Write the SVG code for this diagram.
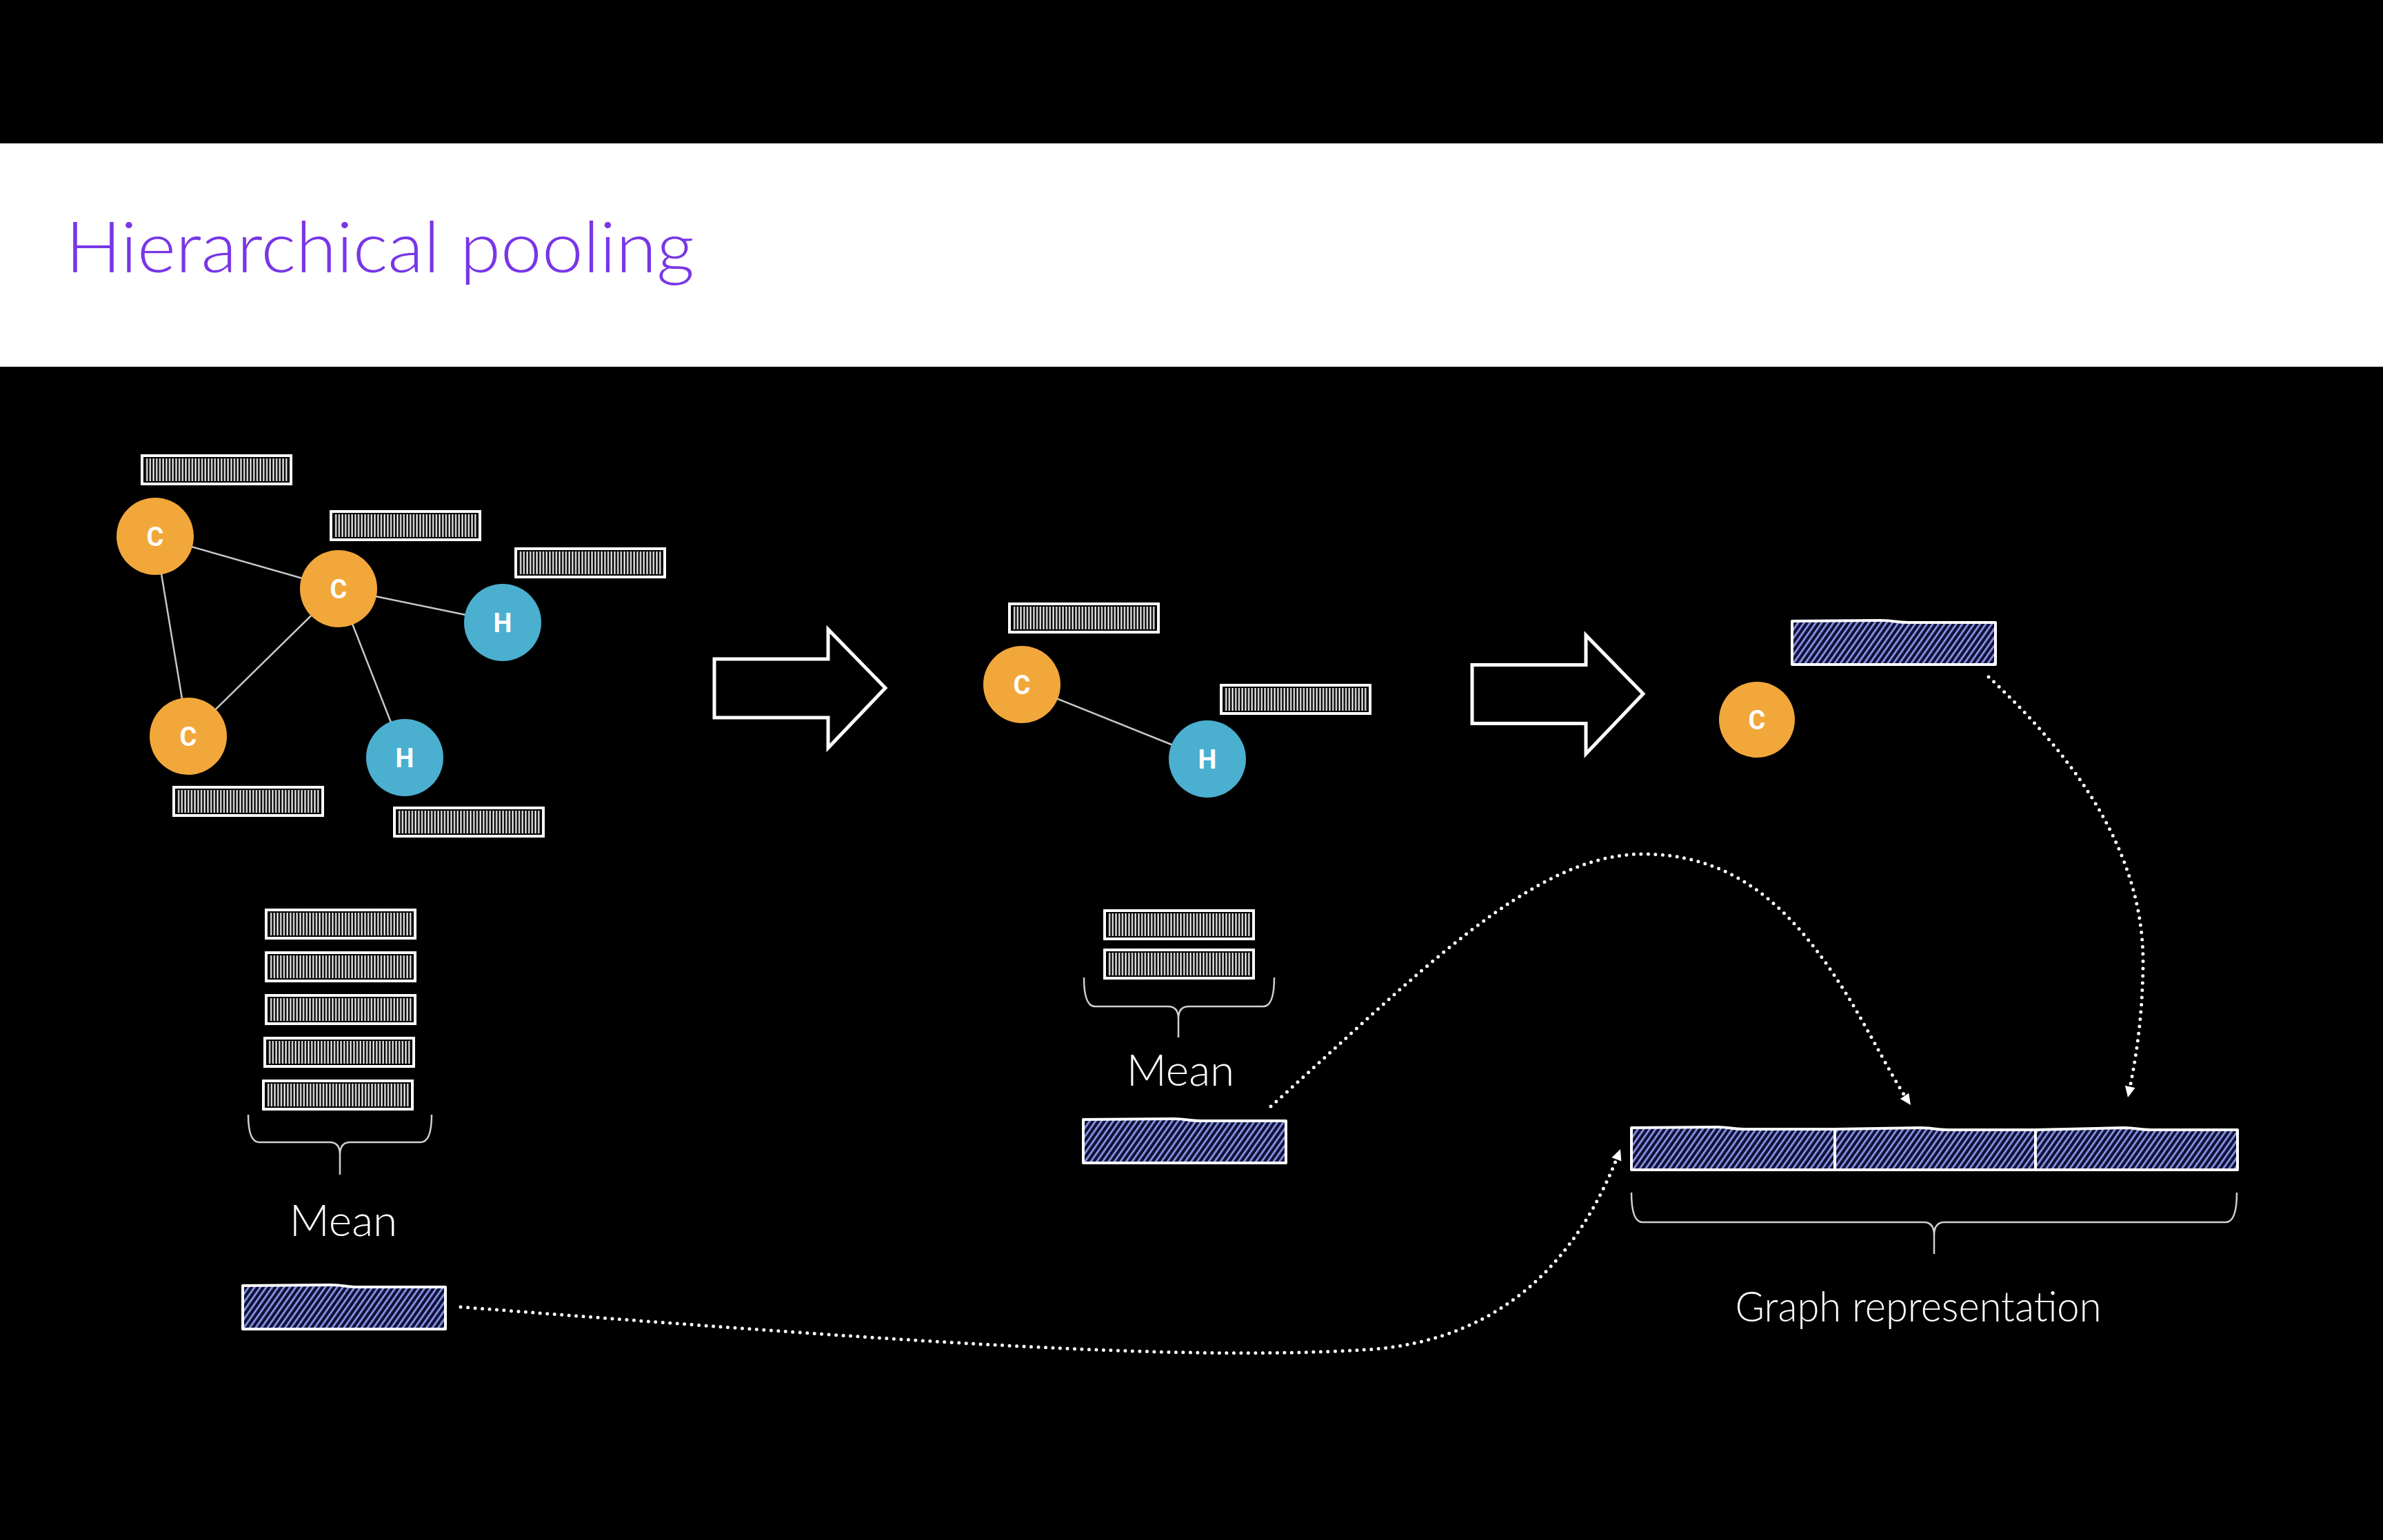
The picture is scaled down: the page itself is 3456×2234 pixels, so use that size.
<svg xmlns="http://www.w3.org/2000/svg" xmlns:xlink="http://www.w3.org/1999/xlink" width="3456" height="2234" viewBox="0 0 3456 2234">
<style>
.edge{stroke:#c8c8c8;stroke-width:2.5;fill:none}
.c{fill:#F2A73B}
.h{fill:#4BAFD0}
.lbl{font-family:Roboto,"Liberation Sans",sans-serif;font-weight:700;font-size:38px;fill:#fff;text-anchor:middle}
.blk{fill:none;stroke:#fff;stroke-width:5;stroke-linejoin:miter}
.hb{fill:url(#hatch);stroke:#fff;stroke-width:4;stroke-linejoin:round}
.brace{fill:none;stroke:#d0d0d0;stroke-width:2.5}
.txt{font-family:Lato,"Open Sans",sans-serif;font-weight:300;fill:#fff;text-anchor:middle}
.dot{fill:none;stroke:#fff;stroke-width:5;stroke-linecap:round;stroke-dasharray:0 10.5}
</style>
<defs>
<pattern id="vs" width="4.7" height="8" patternUnits="userSpaceOnUse"><rect x="1.4" width="2.1" height="8" fill="#fff"/></pattern>
<pattern id="hatch" width="7" height="20" patternUnits="userSpaceOnUse" patternTransform="rotate(35)"><rect width="7" height="20" fill="#0e1036"/><rect width="2.8" height="20" fill="#8a94e6"/></pattern>
<g id="bar"><rect x="0" y="0" width="216" height="41" fill="#000" stroke="#fff" stroke-width="4"/><rect x="4.5" y="4" width="207" height="33" fill="url(#vs)"/></g>
<marker id="ah" markerWidth="18" markerHeight="16" refX="16" refY="7.5" orient="auto" markerUnits="userSpaceOnUse"><path d="M0,0 L16,7.5 L0,15 Z" fill="#fff"/></marker>
</defs>
<rect x="0" y="0" width="3456" height="2234" fill="#000"/>
<rect x="0" y="208" width="3456" height="324" fill="#fff"/>
<text x="95" y="395" font-family="Lato,'Open Sans',sans-serif" font-weight="300" font-size="102" fill="#7936E6" textLength="912" lengthAdjust="spacingAndGlyphs">Hierarchical pooling</text>

<g id="connectors">
<line class="edge" x1="225" y1="778" x2="491" y2="854"/>
<line class="edge" x1="225" y1="778" x2="273" y2="1068"/>
<line class="edge" x1="491" y1="854" x2="273" y2="1068"/>
<line class="edge" x1="491" y1="854" x2="729" y2="903"/>
<line class="edge" x1="491" y1="854" x2="587" y2="1099"/>
<line class="edge" x1="1482" y1="993" x2="1751" y2="1101"/>
<polygon class="blk" points="1036,956 1201,956 1201,913 1284,998 1201,1085 1201,1041 1036,1041"/>
<polygon class="blk" points="2135,964.5 2300,964.5 2300,921.5 2383,1006.5 2300,1093.5 2300,1049.5 2135,1049.5"/>
<path class="dot" marker-end="url(#ah)" d="M668,1896 C1300,1945 1700,1975 1980,1958 C2200,1945 2300,1800 2350,1667"/>
<path class="dot" marker-end="url(#ah)" d="M1843,1605 C2050,1420 2220,1240 2380,1239 C2500,1238 2580,1300 2650,1400 C2700,1470 2735,1550 2771,1603"/>
<path class="dot" marker-end="url(#ah)" d="M2884,982 C3000,1090 3110,1230 3108,1400 C3107,1480 3097,1540 3086,1592"/>
</g>

<g id="graph1">
<g id="n-c1"><circle class="c" cx="225" cy="778" r="56"/><text class="lbl" x="225" y="792">C</text></g>
<g id="n-c2"><circle class="c" cx="491" cy="854" r="56"/><text class="lbl" x="491" y="868">C</text></g>
<g id="n-h1"><circle class="h" cx="729" cy="903" r="56"/><text class="lbl" x="729" y="917">H</text></g>
<g id="n-c3"><circle class="c" cx="273" cy="1068" r="56"/><text class="lbl" x="273" y="1082">C</text></g>
<g id="n-h2"><circle class="h" cx="587" cy="1099" r="56"/><text class="lbl" x="587" y="1113">H</text></g>
<use id="v-c1" xlink:href="#bar" x="206" y="661"/>
<use id="v-c2" xlink:href="#bar" x="480" y="742"/>
<use id="v-h1" xlink:href="#bar" x="748" y="796"/>
<use id="v-c3" xlink:href="#bar" x="252" y="1142"/>
<use id="v-h2" xlink:href="#bar" x="572" y="1172"/>
</g>

<g id="stack1">
<use xlink:href="#bar" x="386" y="1320"/>
<use xlink:href="#bar" x="386" y="1382"/>
<use xlink:href="#bar" x="386" y="1444"/>
<use xlink:href="#bar" x="384" y="1506"/>
<use xlink:href="#bar" x="382" y="1568"/>
<path class="brace" d="M360,1617 Q360,1657 376,1657 L478,1657 Q493,1657 493,1675 L493,1704 M493,1675 Q493,1657 508,1657 L610,1657 Q626,1657 626,1617"/>
<text class="txt" x="498" y="1793" font-size="64">Mean</text>
<path id="pool1" class="hb" d="M352,1928 V1865 L480,1864 C500,1864 500,1867 520,1867 H646 V1928 Z"/>
</g>

<g id="graph2">
<g id="n2-c"><circle class="c" cx="1482" cy="993" r="56"/><text class="lbl" x="1482" y="1007">C</text></g>
<g id="n2-h"><circle class="h" cx="1751" cy="1101" r="56"/><text class="lbl" x="1751" y="1115">H</text></g>
<use id="v2-c" xlink:href="#bar" x="1464" y="876"/>
<use id="v2-h" xlink:href="#bar" x="1771" y="994"/>
</g>

<g id="stack2">
<use xlink:href="#bar" x="1602" y="1321"/>
<use xlink:href="#bar" x="1602" y="1378"/>
<path class="brace" d="M1572,1418 Q1572,1460 1588,1460 L1694,1460 Q1709,1460 1709,1478 L1709,1505 M1709,1478 Q1709,1460 1724,1460 L1832,1460 Q1848,1460 1848,1418"/>
<text class="txt" x="1712" y="1575" font-size="64">Mean</text>
<path id="pool2" class="hb" d="M1571,1687 V1624 L1702,1623 C1722,1623 1722,1626 1742,1626 H1865 V1687 Z"/>
</g>

<g id="graph3">
<g id="n3-c"><circle class="c" cx="2548" cy="1044" r="55"/><text class="lbl" x="2548" y="1058">C</text></g>
<path id="pool3" class="hb" d="M2599,964 V901 L2728,900 C2748,900 2748,903 2768,903 H2894 V964 Z"/>
</g>

<g id="graph-rep">
<path class="hb" d="M2366,1697 V1636 L2490,1635 C2510,1635 2510,1638 2530,1638 L2661,1638 L2785,1636 C2805,1636 2805,1639 2825,1639 L2952,1639 L3080,1636 C3100,1636 3100,1639 3120,1639 L3245,1639 V1697 Z"/>
<line x1="2661" y1="1638" x2="2661" y2="1697" stroke="#fff" stroke-width="4"/>
<line x1="2952" y1="1639" x2="2952" y2="1697" stroke="#fff" stroke-width="4"/>
<path class="brace" d="M2366,1730 Q2366,1773 2382,1773 L2790,1773 Q2805,1773 2805,1792 L2805,1819 M2805,1792 Q2805,1773 2820,1773 L3228,1773 Q3244,1773 3244,1730"/>
<text class="txt" x="2782" y="1917" font-size="62" textLength="531" lengthAdjust="spacingAndGlyphs">Graph representation</text>
</g>
</svg>
